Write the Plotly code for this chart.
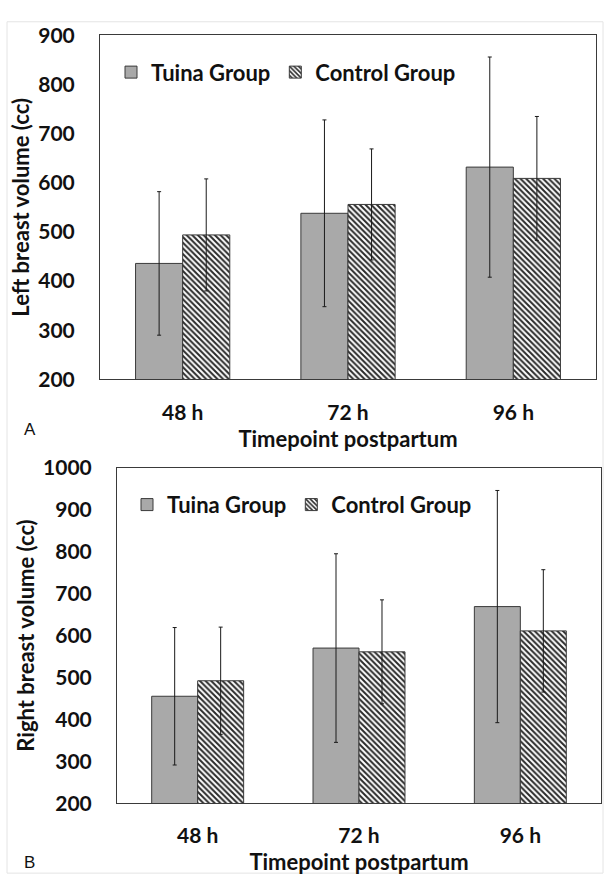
import plotly.graph_objects as go

timepoints = ["48 h", "72 h", "96 h"]

left_tuina_mean = [436, 538, 632]
left_tuina_sd = [146, 190, 224]
left_control_mean = [494, 556, 609]
left_control_sd = [114, 113, 126]

right_tuina_mean = [455, 570, 669]
right_tuina_sd = [164, 225, 277]
right_control_mean = [492, 561, 611]
right_control_sd = [128, 124, 146]

left_ticks = [200, 300, 400, 500, 600, 700, 800, 900]
right_ticks = [200, 300, 400, 500, 600, 700, 800, 900, 1000]

W, H = 608, 888
FONT = "Lato"
EDGE = "#3a3a3a"
TUINA_FILL = "#a9a9a9"


def px_x(p):
    return p / W


def px_y(p):
    return 1 - p / H


fig = go.Figure()

err_style = dict(type="data", color="#1a1a1a", thickness=1, width=2)

panels = [
    ("x", "y", "legend", left_tuina_mean, left_tuina_sd, left_control_mean, left_control_sd),
    ("x2", "y2", "legend2", right_tuina_mean, right_tuina_sd, right_control_mean, right_control_sd),
]

for xa, ya, leg, tm, ts, cm, cs in panels:
    fig.add_trace(go.Bar(
        x=timepoints, y=tm, name="Tuina Group", xaxis=xa, yaxis=ya, legend=leg,
        marker=dict(color=TUINA_FILL, line=dict(color=EDGE, width=1)),
        error_y=dict(array=ts, **err_style),
    ))
    fig.add_trace(go.Bar(
        x=timepoints, y=cm, name="Control Group", xaxis=xa, yaxis=ya, legend=leg,
        marker=dict(color="white", line=dict(color=EDGE, width=1),
                    pattern=dict(shape="\\", fgcolor="#2a2a2a", bgcolor="white",
                                 size=4, solidity=0.5, fillmode="replace")),
        error_y=dict(array=cs, **err_style),
    ))

axis_common = dict(showline=True, mirror=True, linecolor=EDGE, linewidth=1,
                   showgrid=False, zeroline=False, ticks="",
                   tickfont=dict(family=FONT, size=21, color="#111", weight="bold"))

title_font = dict(family=FONT, size=22, color="#111", weight="bold")
legend_font = dict(family=FONT, size=22, color="#111", weight="bold")

fig.update_layout(
    width=W, height=H,
    margin=dict(l=0, r=0, t=0, b=0),
    paper_bgcolor="white", plot_bgcolor="white",
    barmode="group", bargap=0.43, bargroupgap=0,
    font=dict(family=FONT, color="#111"),
    xaxis=dict(domain=[px_x(100), px_x(596)], anchor="y", type="category",
               ticklabelstandoff=14,
               title=dict(text="Timepoint postpartum", font=title_font, standoff=8),
               **axis_common),
    yaxis=dict(domain=[px_y(376), px_y(22)], anchor="x", range=[200, 900],
               tickvals=left_ticks, ticklabelstandoff=20,
               title=dict(text="Left breast volume (cc)", font=title_font, standoff=2),
               **axis_common),
    xaxis2=dict(domain=[px_x(117), px_x(601)], anchor="y2", type="category",
                ticklabelstandoff=14,
                title=dict(text="Timepoint postpartum", font=title_font, standoff=8),
                **axis_common),
    yaxis2=dict(domain=[px_y(812), px_y(467)], anchor="x2", range=[200, 1000],
                tickvals=right_ticks, ticklabelstandoff=20,
                title=dict(text="Right breast volume (cc)", font=title_font, standoff=2),
                **axis_common),
    legend=dict(orientation="h", x=px_x(111), xanchor="left", y=px_y(60), yanchor="middle",
                bgcolor="rgba(0,0,0,0)", font=legend_font,
                itemwidth=30, traceorder="normal"),
    legend2=dict(orientation="h", x=px_x(127), xanchor="left", y=px_y(505), yanchor="middle",
                 bgcolor="rgba(0,0,0,0)", font=legend_font,
                 itemwidth=30, traceorder="normal"),
    showlegend=True,
)

fig.add_annotation(text="A", x=px_x(22), y=px_y(428), xref="paper", yref="paper",
                   xanchor="left", yanchor="middle", showarrow=False,
                   font=dict(family="Liberation Sans", size=17, color="#111"))
fig.add_annotation(text="B", x=px_x(22), y=px_y(873), xref="paper", yref="paper",
                   xanchor="left", yanchor="middle", showarrow=False,
                   font=dict(family="Liberation Sans", size=17, color="#111"))

fig.add_shape(type="rect", xref="paper", yref="paper",
              x0=px_x(7), x1=px_x(603), y0=px_y(884), y1=px_y(8),
              line=dict(color="#e4e4e4", width=1), layer="below")

fig.write_html("out.html", config={"displayModeBar": False},
               post_script="document.body.style.margin='0';")
